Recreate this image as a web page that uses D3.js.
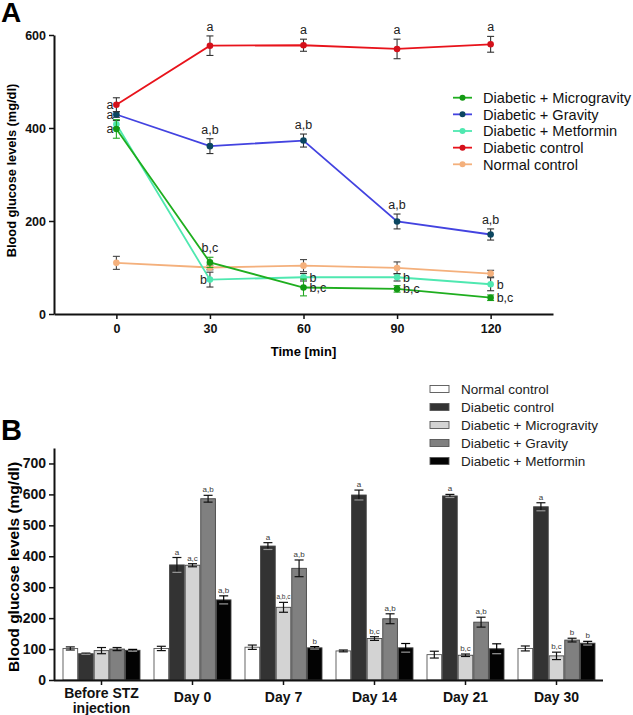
<!DOCTYPE html>
<html><head><meta charset="utf-8">
<script src="https://cdn.jsdelivr.net/npm/d3@7/dist/d3.min.js"></script>
<style>
html,body{margin:0;padding:0;background:#fff;}
svg{display:block;font-family:"Liberation Sans",Arial,sans-serif;}
</style></head>
<body>
<svg id="chart" width="633" height="715"></svg>
<script>
// ---------- Panel A data ----------
const timePoints = [0, 30, 60, 90, 120];
const seriesNamesA = ["Diabetic + Microgravity", "Diabetic + Gravity", "Diabetic + Metformin", "Diabetic control", "Normal control"];
const microgravityA = [398, 111, 57, 54, 35];
const microgravityErrA = [20, 11, 18, 7, 6];
const gravityA = [429, 361, 373, 199, 171];
const gravityErrA = [6, 16, 14, 16, 12];
const metforminA = [408, 74, 79, 79, 64];
const metforminErrA = [8, 16, 8, 8, 14];
const diabeticControlA = [450, 577, 578, 570, 580];
const diabeticControlErrA = [15, 21, 13, 21, 17];
const normalControlA = [110, 100, 104, 99, 87];
const normalControlErrA = [14, 5, 13, 13, 7];
const microgravityLabelsA = ["a", "b,c", "b,c", "b,c", "b,c"];
const gravityLabelsA = ["a", "a,b", "a,b", "a,b", "a,b"];
const metforminLabelsA = ["", "b", "b", "b", "b"];
const diabeticControlLabelsA = ["a", "a", "a", "a", "a"];
const normalControlLabelsA = ["", "", "", "", ""];
const yTicksA = [0, 200, 400, 600];

// ---------- Panel B data ----------
const categoriesB = ["Before STZ injection", "Day 0", "Day 7", "Day 14", "Day 21", "Day 30"];
const seriesNamesB = ["Normal control", "Diabetic control", "Diabetic + Microgravity", "Diabetic + Gravity", "Diabetic + Metformin"];
const normalB = [102, 102, 106, 94, 82, 102];
const normalErrB = [5, 7, 7, 3, 11, 8];
const diabeticB = [85, 372, 433, 598, 595, 560];
const diabeticErrB = [2, 24, 11, 16, 5, 13];
const microB = [95, 371, 235, 134, 80, 78];
const microErrB = [10, 5, 16, 6, 4, 12];
const gravityB = [100, 586, 361, 198, 187, 129];
const gravityErrB = [5, 11, 27, 16, 16, 6];
const metforminB = [96, 259, 104, 104, 101, 119];
const metforminErrB = [3, 13, 4, 14, 16, 6];
const normalLabelsB = ["", "", "", "", "", ""];
const diabeticLabelsB = ["", "a", "a", "a", "a", "a"];
const microLabelsB = ["", "a,c", "a,b,c", "b,c", "b,c", "b,c"];
const gravityLabelsB = ["", "a,b", "a,b", "a,b", "a,b", "b"];
const metforminLabelsB = ["", "a,b", "b", "", "", "b"];
const yTicksB = [0, 100, 200, 300, 400, 500, 600, 700];

// ---------- styles (separate from data) ----------
const colorsA = {"Diabetic + Microgravity": "#1fae1f", "Diabetic + Gravity": "#4343e0", "Diabetic + Metformin": "#4fe8b0", "Diabetic control": "#e8131b", "Normal control": "#f4b07c"};
const markerA = {"Diabetic + Microgravity": "#139a13", "Diabetic + Gravity": "#0b4660", "Diabetic + Metformin": "#4fe8b0", "Diabetic control": "#d4101a", "Normal control": "#f4b07c"};
const errColorA = {"Diabetic + Microgravity": "#22a822", "Diabetic + Gravity": "#333", "Diabetic + Metformin": "#333", "Diabetic control": "#333", "Normal control": "#444"};
const labelSideA = {
  "Diabetic + Microgravity": ["left", "above", "right", "right", "right"],
  "Diabetic + Gravity": ["left", "above", "above", "above", "above"],
  "Diabetic + Metformin": ["none", "left", "right", "right", "right"],
  "Diabetic control": ["left", "above", "above", "above", "above"],
  "Normal control": ["none", "none", "none", "none", "none"]
};
const fillB = {"Normal control": "#ffffff", "Diabetic control": "#333333", "Diabetic + Microgravity": "#d3d3d3", "Diabetic + Gravity": "#808080", "Diabetic + Metformin": "#030303"};

const svg = d3.select("#chart");
const FONT = '"Liberation Sans",Arial,sans-serif';

// ================= Panel A =================
const seriesA = [
  {name: "Normal control", v: normalControlA, e: normalControlErrA, l: normalControlLabelsA},
  {name: "Diabetic + Metformin", v: metforminA, e: metforminErrA, l: metforminLabelsA},
  {name: "Diabetic + Microgravity", v: microgravityA, e: microgravityErrA, l: microgravityLabelsA},
  {name: "Diabetic + Gravity", v: gravityA, e: gravityErrA, l: gravityLabelsA},
  {name: "Diabetic control", v: diabeticControlA, e: diabeticControlErrA, l: diabeticControlLabelsA}
];
const xA = d3.scaleLinear().domain([-20, 140]).range([54, 553]);
const yA = d3.scaleLinear().domain([0, 600]).range([314, 35]);
const gA = svg.append("g");

svg.append("text").attr("x", 1).attr("y", 22).attr("font-size", 28).attr("font-weight", "bold").text("A");

const axXA = gA.append("g").attr("transform", "translate(0,314)")
  .call(d3.axisBottom(xA).tickValues(timePoints).tickSize(5).tickSizeOuter(0).tickPadding(5));
const axYA = gA.append("g").attr("transform", "translate(54,0)")
  .call(d3.axisLeft(yA).tickValues(yTicksA).tickSize(5).tickSizeOuter(0).tickPadding(3));
[axXA, axYA].forEach(a => {
  a.select(".domain").attr("stroke", "#111").attr("stroke-width", 2);
  a.selectAll(".tick line").attr("stroke", "#111").attr("stroke-width", 1.5);
  a.selectAll("text").attr("font-size", 12.5).attr("font-weight", "bold").attr("fill", "#111").attr("font-family", FONT);
});
gA.append("text").attr("x", xA(60)).attr("y", 356).attr("text-anchor", "middle")
  .attr("font-size", 13).attr("font-weight", "bold").text("Time [min]");
gA.append("text").attr("transform", `translate(16,${(yA(0) + yA(600)) / 2 - 4}) rotate(-90)`)
  .attr("text-anchor", "middle").attr("font-size", 12.8).attr("font-weight", "bold").text("Blood glucose levels (mg/dl)");

const line = d3.line().x((d, i) => xA(timePoints[i])).y(d => yA(d));
seriesA.forEach(s => {
  gA.append("path").datum(s.v).attr("d", line).attr("fill", "none")
    .attr("stroke", colorsA[s.name]).attr("stroke-width", 1.8);
});
seriesA.forEach(s => {
  const g = gA.append("g");
  s.v.forEach((v, i) => {
    const x = xA(timePoints[i]);
    const y1 = yA(v + s.e[i]), y2 = yA(v - s.e[i]);
    const c = errColorA[s.name];
    g.append("line").attr("x1", x).attr("x2", x).attr("y1", y1).attr("y2", y2).attr("stroke", c).attr("stroke-width", 1.1);
    g.append("line").attr("x1", x - 3.5).attr("x2", x + 3.5).attr("y1", y1).attr("y2", y1).attr("stroke", c).attr("stroke-width", 1.1);
    g.append("line").attr("x1", x - 3.5).attr("x2", x + 3.5).attr("y1", y2).attr("y2", y2).attr("stroke", c).attr("stroke-width", 1.1);
    g.append("circle").attr("cx", x).attr("cy", yA(v)).attr("r", 3.3).attr("fill", markerA[s.name]);
  });
});
seriesA.forEach(s => {
  s.v.forEach((v, i) => {
    const lab = s.l[i];
    const side = labelSideA[s.name][i];
    if (!lab || side === "none") return;
    const x = xA(timePoints[i]);
    const t = gA.append("text").attr("font-size", 12.5).attr("fill", "#222").text(lab);
    if (side === "above") {
      t.attr("x", x).attr("y", yA(v + s.e[i]) - 5).attr("text-anchor", "middle");
    } else if (side === "left") {
      t.attr("x", x - 3).attr("y", yA(v) + 4).attr("text-anchor", "end");
    } else {
      t.attr("x", x + 6).attr("y", yA(v) + 4.5).attr("text-anchor", "start");
    }
  });
});
// legend A
const legA = gA.append("g");
seriesNamesA.forEach((n, i) => {
  const y = 97.7 + i * 16.65;
  legA.append("line").attr("x1", 453).attr("x2", 472).attr("y1", y).attr("y2", y).attr("stroke", colorsA[n]).attr("stroke-width", 1.8);
  legA.append("circle").attr("cx", 462.5).attr("cy", y).attr("r", 3).attr("fill", markerA[n]);
  legA.append("text").attr("x", 483).attr("y", y + 5.2).attr("font-size", 14.6).attr("fill", "#111").text(n);
});

// ================= Panel B =================
const seriesB = [
  {name: "Normal control", v: normalB, e: normalErrB, l: normalLabelsB},
  {name: "Diabetic control", v: diabeticB, e: diabeticErrB, l: diabeticLabelsB},
  {name: "Diabetic + Microgravity", v: microB, e: microErrB, l: microLabelsB},
  {name: "Diabetic + Gravity", v: gravityB, e: gravityErrB, l: gravityLabelsB},
  {name: "Diabetic + Metformin", v: metforminB, e: metforminErrB, l: metforminLabelsB}
];
const gB = svg.append("g");
svg.append("text").attr("x", 1).attr("y", 440).attr("font-size", 29).attr("font-weight", "bold").text("B");

const xB = d3.scaleBand().domain(categoriesB).range([56, 602]).padding(0);
const xSub = d3.scaleBand().domain(seriesNamesB).range([-38.5, 38.5]).paddingInner(0.06);
const yB = d3.scaleLinear().domain([0, 750]).range([680, 448]);

// bars
seriesB.forEach(s => {
  s.v.forEach((v, i) => {
    const cx = xB(categoriesB[i]) + xB.bandwidth() / 2;
    const x0 = cx + xSub(s.name);
    gB.append("rect").attr("x", x0).attr("y", yB(v)).attr("width", xSub.bandwidth()).attr("height", yB(0) - yB(v))
      .attr("fill", fillB[s.name]).attr("stroke", s.name === "Normal control" ? "#555" : "#444").attr("stroke-width", 0.9);
  });
});
// error bars + labels
seriesB.forEach(s => {
  s.v.forEach((v, i) => {
    const cx = xB(categoriesB[i]) + xB.bandwidth() / 2 + xSub(s.name) + xSub.bandwidth() / 2;
    const y1 = yB(v + s.e[i]), y2 = yB(v - s.e[i]);
    const c = s.name === "Diabetic + Metformin" ? "#000" : "#111";
    gB.append("line").attr("x1", cx).attr("x2", cx).attr("y1", y1).attr("y2", y2).attr("stroke", c).attr("stroke-width", 1.2);
    gB.append("line").attr("x1", cx - 4.5).attr("x2", cx + 4.5).attr("y1", y1).attr("y2", y1).attr("stroke", c).attr("stroke-width", 1.2);
    gB.append("line").attr("x1", cx - 4.5).attr("x2", cx + 4.5).attr("y1", y2).attr("y2", y2).attr("stroke", s.name === "Diabetic + Metformin" || s.name === "Diabetic control" ? "#999" : c).attr("stroke-width", 1.2);
    if (s.l[i]) {
      gB.append("text").attr("x", cx).attr("y", y1 - 3).attr("text-anchor", "middle")
        .attr("font-size", s.l[i].length > 3 ? 6.5 : 8).attr("fill", "#3a3a3a").text(s.l[i]);
    }
  });
});
const axXB = gB.append("g").attr("transform", "translate(0,680)")
  .call(d3.axisBottom(xB).tickSize(5).tickSizeOuter(0).tickFormat(() => ""));
axXB.select(".domain").attr("d", "M54,0.5H603");
const axYB = gB.append("g").attr("transform", "translate(54,0)")
  .call(d3.axisLeft(yB).tickValues(yTicksB).tickSize(5).tickSizeOuter(0).tickPadding(3));
[axXB, axYB].forEach(a => {
  a.select(".domain").attr("stroke", "#111").attr("stroke-width", 2);
  a.selectAll(".tick line").attr("stroke", "#111").attr("stroke-width", 1.5);
  a.selectAll("text").attr("font-size", 14).attr("font-weight", "bold").attr("fill", "#111").attr("font-family", FONT);
});
// category labels (multi-line for first)
categoriesB.forEach((c, i) => {
  const cx = xB(c) + xB.bandwidth() / 2;
  const t = gB.append("text").attr("x", cx).attr("text-anchor", "middle").attr("font-size", 14).attr("font-weight", "bold").attr("fill", "#111");
  if (c === "Before STZ injection") {
    t.attr("y", 698);
    t.append("tspan").attr("x", cx).text("Before STZ");
    t.append("tspan").attr("x", cx).attr("dy", 15).text("injection");
  } else {
    t.attr("y", 702).text(c);
  }
});
gB.append("text").attr("transform", `translate(19,${(yB(0) + yB(750)) / 2 + 3}) rotate(-90)`)
  .attr("text-anchor", "middle").attr("font-size", 15.5).attr("font-weight", "bold").text("Blood glucose levels (mg/dl)");
// legend B
seriesNamesB.forEach((n, i) => {
  const y = 389 + i * 18;
  gB.append("rect").attr("x", 430).attr("y", y - 3.5).attr("width", 19).attr("height", 7)
    .attr("fill", fillB[n]).attr("stroke", "#555").attr("stroke-width", 0.9);
  gB.append("text").attr("x", 461).attr("y", y + 5).attr("font-size", 13.5).attr("fill", "#222").text(n);
});
</script>
</body></html>
